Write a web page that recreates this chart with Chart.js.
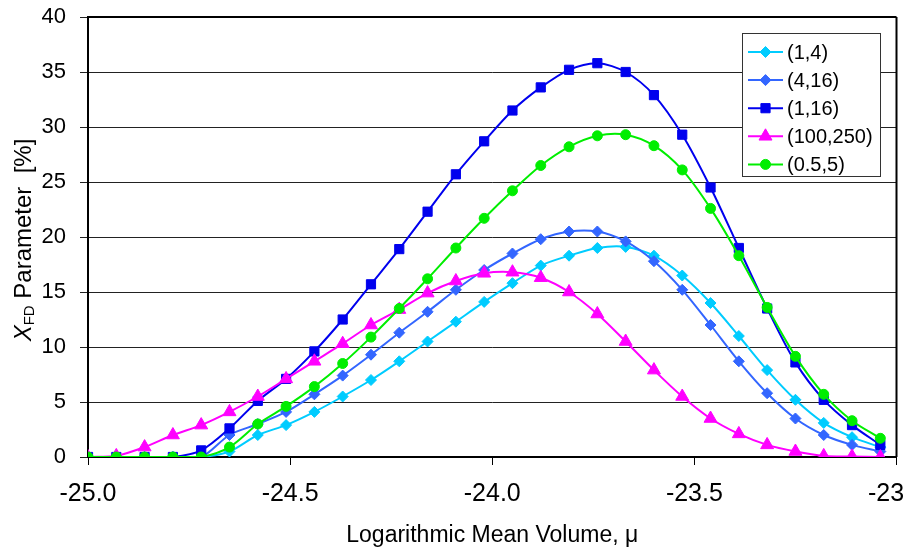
<!DOCTYPE html>
<html>
<head>
<meta charset="utf-8">
<script src="https://cdn.jsdelivr.net/npm/chart.js@4.4.1/dist/chart.umd.min.js"></script>
<style>
  html, body { margin: 0; padding: 0; background: #fff; }
  canvas { display: block; }
</style>
</head>
<body>
<canvas id="chart" width="905" height="548"></canvas>
<script>
// logarithmic mean volume (x) for every sample
const muValues = [-25.00, -24.93, -24.86, -24.79, -24.72, -24.65, -24.58, -24.51, -24.44, -24.37,
  -24.30, -24.23, -24.16, -24.09, -24.02, -23.95, -23.88, -23.81, -23.74, -23.67,
  -23.60, -23.53, -23.46, -23.39, -23.32, -23.25, -23.18, -23.11, -23.04]

const seriesLabels = ['(1,4)', '(4,16)', '(1,16)', '(100,250)', '(0.5,5)']

const xfd_1_4 = [0, 0, 0, 0, 0, 0.5, 2.0, 2.9, 4.1, 5.5, 7.0, 8.7, 10.5, 12.3, 14.1, 15.8, 17.4, 18.3, 19.0, 19.1,
  18.3, 16.5, 14.0, 11.0, 7.9, 5.2, 3.1, 1.8, 0.9]
const xfd_4_16 = [0, 0, 0, 0, 0, 2.0, 3.0, 4.1, 5.7, 7.4, 9.3, 11.3, 13.2, 15.2, 17.0, 18.5, 19.8, 20.5, 20.5, 19.6,
  17.8, 15.2, 12.0, 8.7, 5.8, 3.5, 2.0, 1.1, 0.5]
const xfd_1_16 = [0, 0, 0, 0, 0.6, 2.6, 5.1, 7.1, 9.6, 12.5, 15.7, 18.9, 22.3, 25.7, 28.7, 31.5, 33.6, 35.2, 35.8, 35.0,
  32.9, 29.3, 24.5, 19.0, 13.5, 8.6, 5.2, 2.9, 1.1]
const xfd_100_250 = [0, 0.1, 0.9, 2.0, 2.9, 4.1, 5.5, 7.1, 8.7, 10.3, 12.0, 13.4, 14.9, 16.0, 16.7, 16.8, 16.3, 15.0, 13.0, 10.5,
  7.9, 5.5, 3.5, 2.1, 1.1, 0.5, 0.1, 0.05, 0]
const xfd_05_5 = [0, 0, 0, 0, 0, 0.9, 3.0, 4.6, 6.4, 8.5, 10.9, 13.5, 16.2, 19.0, 21.7, 24.2, 26.5, 28.2, 29.2, 29.3,
  28.3, 26.1, 22.6, 18.3, 13.6, 9.15, 5.7, 3.3, 1.7]

const xTickStep = 0.5
const yTickStep = 5

const FONT = "'Liberation Sans', Arial, sans-serif"

function pts(ys) {
  return ys.map((y, i) => ({ x: muValues[i], y }))
}

function series(label, ys, color, style, radius, order) {
  return {
    label,
    data: pts(ys),
    borderColor: color,
    backgroundColor: color,
    borderWidth: 2,
    pointStyle: style,
    pointRadius: radius,
    pointBorderWidth: 1,
    pointBackgroundColor: color,
    pointBorderColor: color,
    tension: 0.3,
    order,
  }
}

// plot frame on the right, plus the two axis titles
const framePlugin = {
  id: 'frame',
  afterDraw(chart) {
    const { ctx, chartArea: a } = chart
    ctx.save()
    ctx.strokeStyle = '#000'
    ctx.lineWidth = 2
    ctx.beginPath()
    ctx.moveTo(a.right, a.top)
    ctx.lineTo(a.right, a.bottom)
    ctx.moveTo(a.left, a.top)
    ctx.lineTo(a.right, a.top)
    ctx.stroke()

    ctx.fillStyle = '#000'
    ctx.textBaseline = 'alphabetic'
    ctx.textAlign = 'center'
    ctx.font = `23px ${FONT}`
    ctx.fillText('Logarithmic Mean Volume, μ', (a.left + a.right) / 2, 542)

    // y title: X with subscript FD
    const parts = [
      { t: 'X', f: `italic 24px ${FONT}`, dy: 0 },
      { t: 'FD', f: `15px ${FONT}`, dy: 3 },
      { t: ' Parameter  [%]', f: `24px ${FONT}`, dy: 0 },
    ]
    let total = 0
    parts.forEach(p => { ctx.font = p.f; p.w = ctx.measureText(p.t).width; total += p.w })
    ctx.translate(31, 240)
    ctx.rotate(-Math.PI / 2)
    ctx.textAlign = 'left'
    let x = -total / 2
    parts.forEach(p => { ctx.font = p.f; ctx.fillText(p.t, x, p.dy); x += p.w })
    ctx.restore()
  },
}

// boxed legend inside the plot, top right
const legendPlugin = {
  id: 'boxLegend',
  afterDraw(chart) {
    const { ctx } = chart
    const box = { x: 742, y: 33, w: 138, h: 143 }
    ctx.save()
    ctx.fillStyle = '#fff'
    ctx.fillRect(box.x, box.y, box.w, box.h)
    ctx.strokeStyle = '#333'
    ctx.lineWidth = 1
    ctx.strokeRect(box.x + 0.5, box.y + 0.5, box.w, box.h)
    chart.data.datasets.forEach((ds, i) => {
      const y = 52 + i * 28.1
      ctx.strokeStyle = ds.borderColor
      ctx.lineWidth = 2
      ctx.beginPath()
      ctx.moveTo(748, y)
      ctx.lineTo(783, y)
      ctx.stroke()
      ctx.fillStyle = ds.pointBackgroundColor
      ctx.strokeStyle = ds.pointBorderColor
      ctx.lineWidth = 1
      Chart.helpers.drawPoint(ctx, { pointStyle: ds.pointStyle, radius: ds.pointRadius, rotation: 0, borderWidth: 1 }, 765.5, y)
      ctx.fillStyle = '#000'
      ctx.font = `20px ${FONT}`
      ctx.textBaseline = 'middle'
      ctx.textAlign = 'left'
      ctx.fillText(ds.label, 787, y + 1)
    })
    ctx.restore()
  },
}

new Chart(document.getElementById('chart').getContext('2d'), {
  type: 'line',
  data: {
    datasets: [
      series(seriesLabels[0], xfd_1_4, '#00CCFF', 'rectRot', 5.5, 5),
      series(seriesLabels[1], xfd_4_16, '#3366FF', 'rectRot', 5.5, 4),
      series(seriesLabels[2], xfd_1_16, '#0000EE', 'rect', 6.5, 3),
      series(seriesLabels[3], xfd_100_250, '#FF00FF', 'triangle', 7.5, 2),
      series(seriesLabels[4], xfd_05_5, '#00EE00', 'circle', 5, 1),
    ],
  },
  options: {
    responsive: false,
    animation: false,
    layout: { padding: { top: 17, right: 5, left: 0, bottom: 0 } },
    plugins: { legend: { display: false }, tooltip: { enabled: false } },
    scales: {
      x: {
        type: 'linear',
        min: -25,
        max: -23,
        ticks: {
          stepSize: xTickStep,
          autoSkip: false,
          maxRotation: 0,
          padding: 14,
          color: '#000',
          font: { family: FONT, size: 25 },
          callback: v => v.toFixed(1),
        },
        grid: { drawOnChartArea: false, color: '#000', tickLength: 8, tickWidth: 1 },
        border: { color: '#000', width: 2 },
        afterFit(scale) { scale.height = 91; scale.paddingLeft = 0; scale.paddingRight = 0 },
      },
      y: {
        min: 0,
        max: 40,
        ticks: {
          stepSize: yTickStep,
          padding: 14,
          color: '#000',
          font: { family: FONT, size: 22 },
        },
        grid: { color: '#222', lineWidth: 1, tickLength: 8 },
        border: { color: '#000', width: 2 },
        afterFit(scale) { scale.width = 88; scale.paddingTop = 0; scale.paddingBottom = 0 },
      },
    },
  },
  plugins: [framePlugin, legendPlugin],
})
</script>
</body>
</html>
